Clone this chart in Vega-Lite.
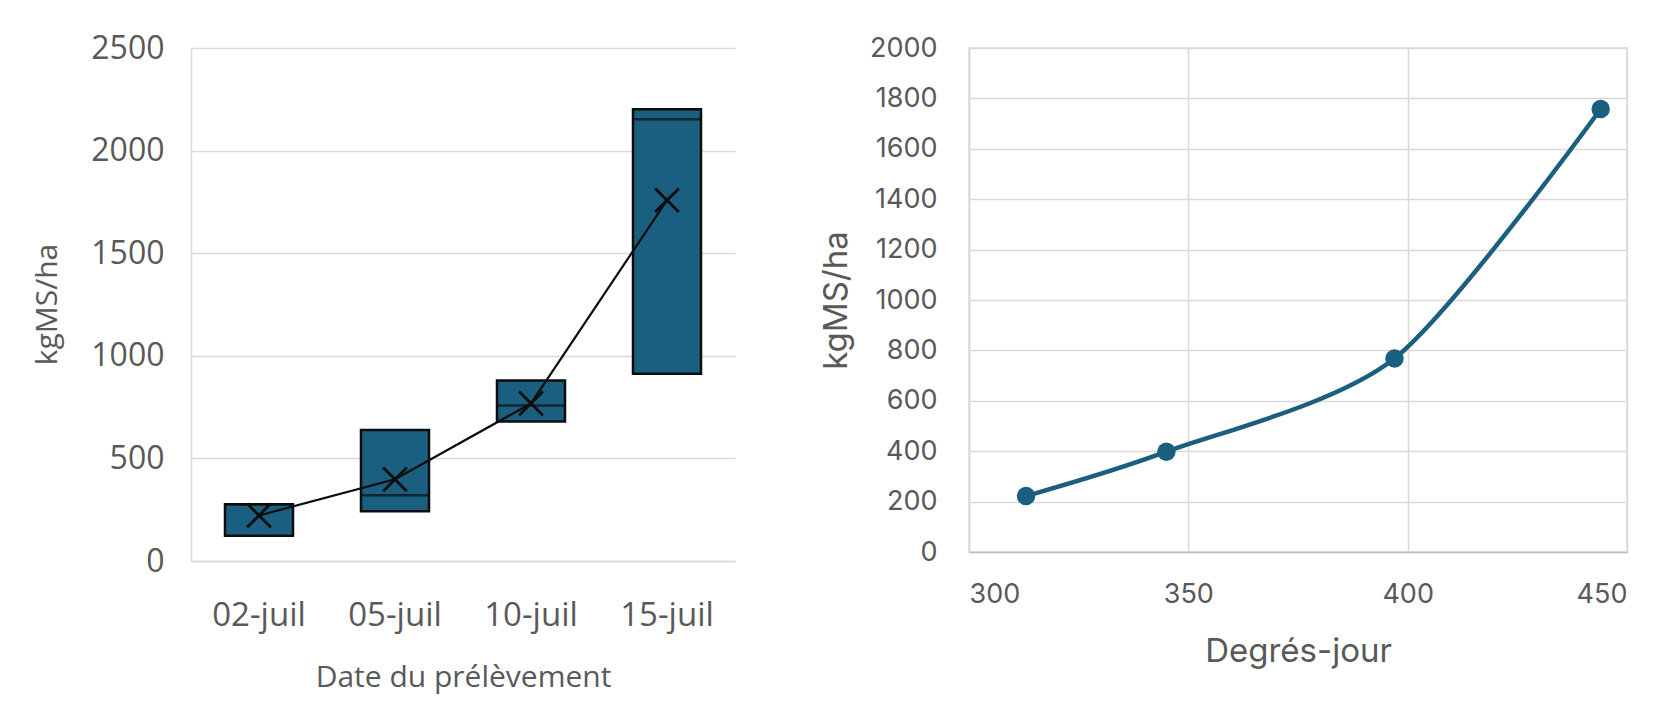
{
  "$schema": "https://vega.github.io/schema/vega-lite/v6.json",
  "padding": {"left": 32, "top": 32, "right": 5, "bottom": 5},
  "background": "white",
  "bounds": "flush",
  "spacing": 234,
  "datasets": {
    "prelevements": [
      {"date": "02-juil", "ordre": 1, "q1": 123, "q3": 277, "mediane": 277, "moyenne": 222, "dj": 313},
      {"date": "05-juil", "ordre": 2, "q1": 242, "q3": 639, "mediane": 320, "moyenne": 398, "dj": 345},
      {"date": "10-juil", "ordre": 3, "q1": 680, "q3": 880, "mediane": 758, "moyenne": 768, "dj": 397},
      {"date": "15-juil", "ordre": 4, "q1": 912, "q3": 2202, "mediane": 2153, "moyenne": 1758, "dj": 444}
    ]
  },
  "config": {
    "view": {"stroke": null},
    "axis": {
      "labelColor": "#595959",
      "titleColor": "#595959",
      "titleFontWeight": "normal",
      "ticks": false,
      "gridColor": "#d9d9d9",
      "gridWidth": 1.5,
      "domainColor": "#d9d9d9",
      "domainWidth": 1.5
    }
  },
  "hconcat": [
    {
      "width": 544,
      "height": 513,
      "data": {"name": "prelevements"},
      "encoding": {
        "x": {
          "field": "date",
          "type": "nominal",
          "sort": {"field": "ordre"},
          "scale": {"paddingInner": 0.5, "paddingOuter": 0.25},
          "axis": {
            "title": "Date du prélèvement",
            "labelAngle": 0,
            "labelFont": "Open Sans",
            "labelFontSize": 33,
            "labelPadding": 38,
            "titleFont": "Open Sans",
            "titleFontSize": 30,
            "titlePadding": 30,
            "grid": false
          }
        }
      },
      "layer": [
        {
          "mark": {"type": "bar", "color": "#1a5e80", "stroke": "#0d0d0d", "strokeWidth": 2.5},
          "encoding": {
            "y": {
              "field": "q1",
              "type": "quantitative",
              "scale": {"domain": [0, 2500], "nice": false},
              "axis": {
                "title": "kgMS/ha",
                "format": "d",
                "values": [0, 500, 1000, 1500, 2000, 2500],
                "labelFont": "Open Sans",
                "labelFontSize": 32,
                "labelPadding": 27,
                "titleFont": "Open Sans",
                "titleFontSize": 30,
                "titleX": -144,
                "titleY": 256,
                "titleBaseline": "middle",
                "titleAlign": "center",
                "titleAngle": -90
              }
            },
            "y2": {"field": "q3"}
          }
        },
        {
          "mark": {"type": "tick", "color": "#0d0d0d", "thickness": 2.5, "size": 68},
          "encoding": {"y": {"field": "mediane", "type": "quantitative"}}
        },
        {
          "mark": {"type": "line", "color": "#0d0d0d", "strokeWidth": 2.2},
          "encoding": {"y": {"field": "moyenne", "type": "quantitative"}}
        },
        {
          "mark": {
            "type": "point",
            "shape": "M-1,-1L1,1M-1,1L1,-1",
            "filled": false,
            "stroke": "#0d0d0d",
            "strokeWidth": 2.8,
            "size": 560,
            "opacity": 1
          },
          "encoding": {"y": {"field": "moyenne", "type": "quantitative"}}
        }
      ]
    },
    {
      "width": 658,
      "height": 504,
      "view": {"stroke": "#d9d9d9", "strokeWidth": 1.5},
      "data": {"name": "prelevements"},
      "encoding": {
        "x": {
          "field": "dj",
          "type": "quantitative",
          "scale": {"domain": [300, 450], "nice": false, "zero": false},
          "axis": {
            "title": "Degrés-jour",
            "values": [300, 350, 400, 450],
            "labelFont": "Inter",
            "labelFontSize": 27,
            "labelPadding": 29,
            "titleFont": "Inter",
            "titleFontSize": 33,
            "titlePadding": 28,
            "domainColor": "#bfbfbf"
          }
        },
        "y": {
          "field": "moyenne",
          "type": "quantitative",
          "scale": {"domain": [0, 2000], "nice": false},
          "axis": {
            "title": "kgMS/ha",
            "format": "d",
            "values": [0, 200, 400, 600, 800, 1000, 1200, 1400, 1600, 1800, 2000],
            "labelFont": "Inter",
            "labelFontSize": 27,
            "labelPadding": 32,
            "titleFont": "Inter",
            "titleFontSize": 33,
            "titleX": -133,
            "titleY": 252,
            "titleBaseline": "middle",
            "titleAlign": "center",
            "titleAngle": -90
          }
        }
      },
      "layer": [
        {
          "mark": {"type": "line", "color": "#1a5e80", "strokeWidth": 4.5, "interpolate": "cardinal", "tension": 0.2}
        },
        {
          "mark": {"type": "point", "filled": true, "color": "#1a5e80", "size": 340, "opacity": 1}
        }
      ]
    }
  ]
}
